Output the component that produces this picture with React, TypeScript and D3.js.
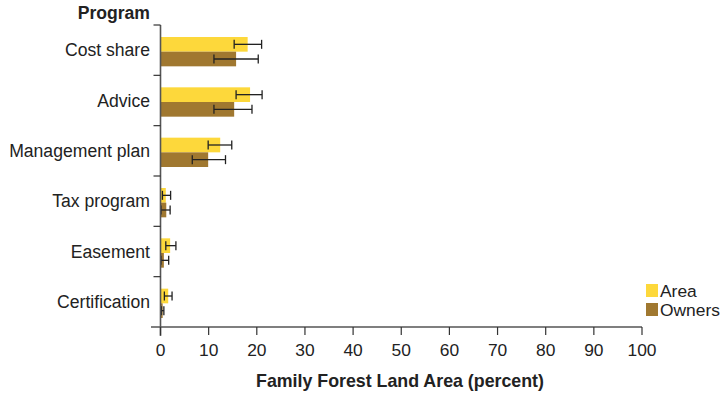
import React from "react";
import * as d3 from "d3";

const programs = ["Cost share", "Advice", "Management plan", "Tax program", "Easement", "Certification"];
const seriesNames = ["Area", "Owners"];
const areaValues = [18.1, 18.6, 12.4, 1.1, 2.0, 1.6];
const areaLow = [15.3, 15.7, 9.9, 0.4, 1.1, 0.8];
const areaHigh = [21.0, 21.1, 14.8, 2.1, 3.2, 2.4];
const ownerValues = [15.7, 15.3, 9.9, 1.2, 0.7, 0.45];
const ownerLow = [11.1, 11.1, 6.6, 0.1, 0.1, 0.2];
const ownerHigh = [20.3, 19.0, 13.5, 2.0, 1.7, 0.7];
const xTicks = [0, 10, 20, 30, 40, 50, 60, 70, 80, 90, 100];

const colors = { Area: "#fdd83b", Owners: "#a07830" };
const font = "'Liberation Sans', Arial, Helvetica, sans-serif";

export default function App() {
  const width = 723;
  const height = 393;
  const left = 160.5;
  const right = 642;
  const top = 25;
  const bottom = 327;

  const x = d3.scaleLinear().domain([0, 100]).range([left, right]);
  const y = d3.scaleBand().domain(programs).range([top, bottom]).paddingInner(0).paddingOuter(0);
  const inner = d3.scaleBand().domain(seriesNames).range([12, y.bandwidth() - 9]).padding(0);

  const series = [
    { name: "Area", values: areaValues, lo: areaLow, hi: areaHigh },
    { name: "Owners", values: ownerValues, lo: ownerLow, hi: ownerHigh },
  ];

  const boundaries = programs.map((p) => y(p) as number);

  return (
    <svg width={width} height={height} style={{ position: "absolute", left: 0, top: 0 }} fontFamily={font}>
      <rect width={width} height={height} fill="#fff" />
      {series.map((s) =>
        programs.map((p, i) => {
          const by = (y(p) as number) + (inner(s.name) as number);
          const bh = inner.bandwidth();
          const cy = by + bh / 2;
          return (
            <g key={s.name + p}>
              <rect x={x(0)} y={by} width={x(s.values[i]) - x(0)} height={bh} fill={(colors as any)[s.name]} />
              <line x1={x(s.lo[i])} x2={x(s.hi[i])} y1={cy} y2={cy} stroke="#222" strokeWidth={1.3} />
              <line x1={x(s.lo[i])} x2={x(s.lo[i])} y1={cy - 4.5} y2={cy + 4.5} stroke="#222" strokeWidth={1.3} />
              <line x1={x(s.hi[i])} x2={x(s.hi[i])} y1={cy - 4.5} y2={cy + 4.5} stroke="#222" strokeWidth={1.3} />
            </g>
          );
        })
      )}
      {/* y axis */}
      <line x1={left} x2={left} y1={top} y2={bottom + 9} stroke="#555" strokeWidth={1.6} />
      {boundaries.map((b, i) => (
        <line key={i} x1={left - 7} x2={left} y1={b} y2={b} stroke="#333" strokeWidth={1.2} />
      ))}
      {programs.map((p) => (
        <text key={p} x={150} y={(y(p) as number) + y.bandwidth() / 2} dy="0.35em" textAnchor="end" fontSize={17.6} fill="#222">
          {p}
        </text>
      ))}
      <text x={150} y={19} textAnchor="end" fontSize={17.6} fontWeight="bold" fill="#222">
        Program
      </text>
      {/* x axis */}
      <line x1={151} x2={right} y1={bottom} y2={bottom} stroke="#555" strokeWidth={1.6} />
      {xTicks.map((t) => (
        <g key={t}>
          <line x1={x(t)} x2={x(t)} y1={bottom} y2={bottom + 8} stroke="#333" strokeWidth={1.2} />
          <text x={x(t)} y={356} textAnchor="middle" fontSize={17.4} fill="#222">
            {t}
          </text>
        </g>
      ))}
      <text x={400} y={387} textAnchor="middle" fontSize={17.8} fontWeight="bold" fill="#222">
        Family Forest Land Area (percent)
      </text>
      {/* legend */}
      {seriesNames.map((n, i) => (
        <g key={n}>
          <rect x={646} y={284 + i * 19} width={12} height={13} fill={(colors as any)[n]} />
          <text x={660} y={290.5 + i * 19} dy="0.35em" fontSize={17.4} fill="#222">
            {n}
          </text>
        </g>
      ))}
    </svg>
  );
}
